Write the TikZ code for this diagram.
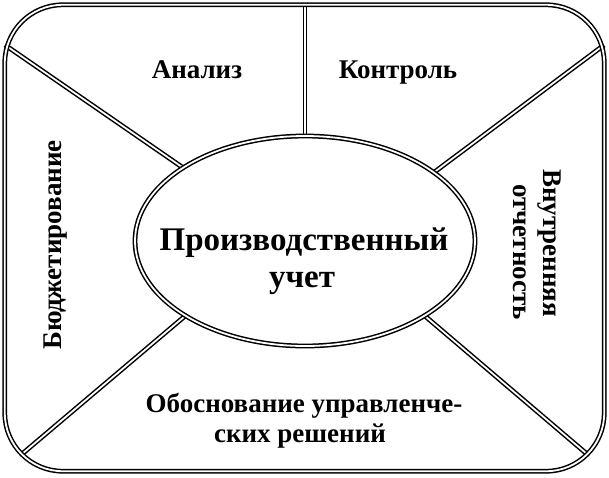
\documentclass[tikz,border=0pt]{standalone}
\usepackage{fontspec}
\setmainfont{Liberation Serif}
\usetikzlibrary{shapes.geometric}
\begin{document}
\begin{tikzpicture}[x=1pt,y=-1pt,
  dbl/.style={draw=black,line width=1.5pt,double=white,double distance=1.8pt},
  lbl/.style={font=\bfseries\fontsize{27}{27}\selectfont,inner sep=0pt},
  biglbl/.style={font=\bfseries\fontsize{33}{37}\selectfont,inner sep=0pt,align=center}]
\useasboundingbox (0,0) rectangle (609,477);
\node[shape=ellipse,minimum width=340pt,minimum height=210pt,inner sep=0pt] (ell) at (305,241) {};
\node[shape=rectangle,minimum width=599pt,minimum height=466pt,inner sep=0pt] (frame) at (304.5,238) {};
\coordinate (ul) at (5,45);
\coordinate (ur) at (604,45);
\coordinate (ll) at (22,454);
\coordinate (lr) at (587,454);
\draw[dbl] (ell.north) -- (ell.north |- frame.north);
\draw[dbl] (ell.149) -- (ul);
\draw[dbl] (ell.28) -- (ur);
\draw[dbl] (ell.212) -- (ll);
\draw[dbl] (ell.328) -- (lr);
\draw[dbl] (ell.center) ellipse [x radius=170, y radius=105];
\draw[dbl,rounded corners=58pt] (frame.north west) rectangle (frame.south east);
\node[lbl,anchor=base] (an) at (197,78) {Анализ};
\node[lbl,anchor=base] (ko) at (398,78) {Контроль};
\node[lbl,rotate=90] (bu) at (56,245) {Бюджетирование};
\node[lbl,rotate=-90] (vn) at (549,243) {Внутренняя};
\node[lbl,rotate=-90] (ot) at (520,252) {отчетность};
\node[lbl,anchor=base] (ob1) at (304,412) {Обоснование управленче-};
\node[lbl,anchor=base] (ob2) at (300,442) {ских решений};
\node[biglbl,anchor=base] (pr1) at (304,250) {Производственный};
\node[biglbl,anchor=base] (pr2) at (302,287) {учет};
\end{tikzpicture}
\end{document}
